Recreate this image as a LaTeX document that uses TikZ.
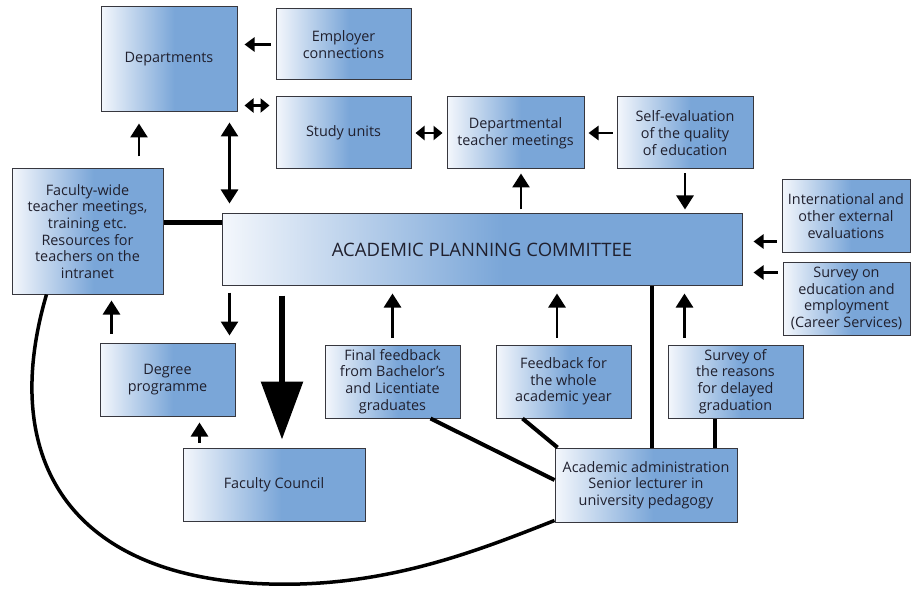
\documentclass[tikz,border=0pt]{standalone}
\usepackage{fontspec}
\setmainfont{Open Sans}
\usetikzlibrary{arrows.meta,calc}
\definecolor{boxblue}{RGB}{122,166,216}
\definecolor{boxlight}{RGB}{244,247,252}
\definecolor{boxline}{RGB}{55,55,62}
\definecolor{inkc}{RGB}{32,32,46}
\pgfdeclarehorizontalshading{boxshade}{100bp}{color(0bp)=(boxlight); color(25bp)=(boxlight); color(52bp)=(boxblue); color(100bp)=(boxblue)}
\tikzset{
  unit/.style={draw=boxline, line width=1pt, shading=boxshade, text=inkc,
    align=center, inner sep=0pt, font=\fontsize{14.4}{16.7}\selectfont},
  arr/.style={line width=2.8pt, -{Triangle[width=17pt,length=14pt]}},
  harr/.style={line width=2.5pt, -{Triangle[width=14pt,length=10pt]}},
  dbl/.style={line width=2.5pt, {Triangle[width=14pt,length=9pt]}-{Triangle[width=14pt,length=9pt]}},
  vdbl/.style={line width=2.8pt, {Triangle[width=17pt,length=14pt]}-{Triangle[width=17pt,length=14pt]}},
  bigarr/.style={line width=6pt, -{Triangle[width=41pt,length=58pt]}},
  link/.style={line width=4pt},
  curve/.style={line width=3.5pt},
}
\begin{document}
\begin{tikzpicture}[x=1pt, y=-1pt]
\useasboundingbox (0,0) rectangle (911,591);

% boxes
\node[unit, minimum width=136pt, minimum height=105pt] (dep) at (169,59.5) {Departments};
\node[unit, minimum width=135pt, minimum height=71pt] (emp) at (343.5,44.5) {Employer\\connections};
\node[unit, minimum width=135pt, minimum height=72pt] (su) at (343.5,133) {Study units};
\node[unit, minimum width=137pt, minimum height=72pt] (dtm) at (515.5,133) {Departmental\\teacher meetings};
\node[unit, minimum width=136pt, minimum height=72pt] (se) at (685,133) {Self-evaluation\\of the quality\\of education};
\node[unit, minimum width=151pt, minimum height=125pt] (fac) at (87.5,231.5) {Faculty-wide\\teacher meetings,\\training etc.\\Resources for\\teachers on the\\intranet};
\node[unit, minimum width=520pt, minimum height=71pt, font=\fontsize{18.5}{21}\selectfont] (apc) at (482,249.5) {ACADEMIC PLANNING COMMITTEE};
\node[unit, minimum width=128pt, minimum height=72pt] (intl) at (846,216) {International and\\other external\\evaluations};
\node[unit, minimum width=127pt, minimum height=73pt] (surv) at (846.5,298.5) {Survey on\\education and\\employment\\(Career Services)};
\node[unit, minimum width=135pt, minimum height=73pt] (deg) at (167.5,379.5) {Degree\\programme};
\node[unit, minimum width=182pt, minimum height=73pt] (fc) at (274,484.5) {Faculty Council};
\node[unit, minimum width=135pt, minimum height=73pt] (ff) at (392.5,381.5) {Final feedback\\from Bachelor’s\\and Licentiate\\graduates};
\node[unit, minimum width=135pt, minimum height=73pt] (fy) at (563.5,381.5) {Feedback for\\the whole\\academic year};
\node[unit, minimum width=135pt, minimum height=73pt] (sr) at (735.5,381.5) {Survey of\\the reasons\\for delayed\\graduation};
\node[unit, minimum width=182pt, minimum height=74pt] (adm) at (646,485) {Academic administration\\Senior lecturer in\\university pedagogy};

% top row arrows
\draw[harr, shorten <=5pt, shorten >=7pt] (emp.west) -- (emp.west -| dep.east);
\draw[dbl, shorten <=7pt, shorten >=6pt] ([yshift=7pt]dep.south east) -- ([yshift=7pt]dep.south east -| su.west);
\draw[dbl, shorten <=4pt, shorten >=4pt] (su.east) -- (dtm.west);
\draw[harr, shorten <=4pt, shorten >=4pt] (se.west) -- (dtm.east);

% arrows around the committee
\draw[arr, shorten <=4pt, shorten >=4pt] ([xshift=5.5pt]dtm.south |- apc.north) -- ([xshift=5.5pt]dtm.south);
\draw[arr, shorten <=4pt, shorten >=4pt] (se.south) -- (se.south |- apc.north);
\draw[arr, shorten <=12pt, shorten >=11pt] ([xshift=-30pt]dep.south |- fac.north) -- ([xshift=-30pt]dep.south);
\draw[vdbl, shorten <=10pt, shorten >=10pt] ([xshift=8pt]apc.north west) -- ([xshift=8pt]apc.north west |- dep.south);
\draw[link] ([yshift=-9pt]apc.north west) -- ([yshift=-9pt]apc.north west -| fac.east);
\draw[arr, shorten <=7pt, shorten >=7pt] ([xshift=8pt]apc.south west) -- ([xshift=8pt]apc.south west |- deg.north);
\draw[arr, shorten <=9pt, shorten >=6pt] ([xshift=12pt]deg.north west) -- ([xshift=12pt]deg.north west |- fac.south);
\draw[arr, shorten <=5pt, shorten >=6pt] ([xshift=17pt]fc.north west) -- ([xshift=17pt]fc.north west |- deg.south);
\draw[bigarr, shorten <=10pt, shorten >=8pt] ([xshift=8pt]fc.north |- apc.south) -- ([xshift=8pt]fc.north);
\draw[arr, shorten <=7pt, shorten >=8pt] (ff.north) -- (ff.north |- apc.south);
\draw[arr, shorten <=7pt, shorten >=8pt] ([xshift=-6.5pt]fy.north) -- ([xshift=-6.5pt]fy.north |- apc.south);
\draw[arr, shorten <=7pt, shorten >=8pt] ([xshift=17pt]sr.north west) -- ([xshift=17pt]sr.north west |- apc.south);
\draw[harr, shorten <=5pt, shorten >=11pt] ([yshift=11pt]intl.south west) -- ([yshift=11pt]intl.south west -| apc.east);
\draw[harr, shorten <=5pt, shorten >=11pt] ([yshift=-11pt]surv.north west) -- ([yshift=-11pt]surv.north west -| apc.east);

% links to the academic administration
\draw[link] ([xshift=6pt]adm.north |- apc.south) -- ([xshift=6pt]adm.north);
\draw[link] ([xshift=-23pt]adm.north east |- sr.south) -- ([xshift=-23pt]adm.north east);
\draw[link] ([xshift=-30pt]ff.south east) -- ([yshift=5pt]adm.west);
\draw[link] ([xshift=27pt]fy.south west) -- ([xshift=3pt]adm.north west);

% feedback loop from the faculty-wide resources
\coordinate (cstart) at ([xshift=35pt]fac.south west);
\coordinate (cend) at ([yshift=2pt]adm.south west);
\draw[curve] (cstart) .. controls (-5,470) and (80,590) .. (300,584)
                      .. controls (400,581) and (480,550) .. (cend);
\end{tikzpicture}
\end{document}
